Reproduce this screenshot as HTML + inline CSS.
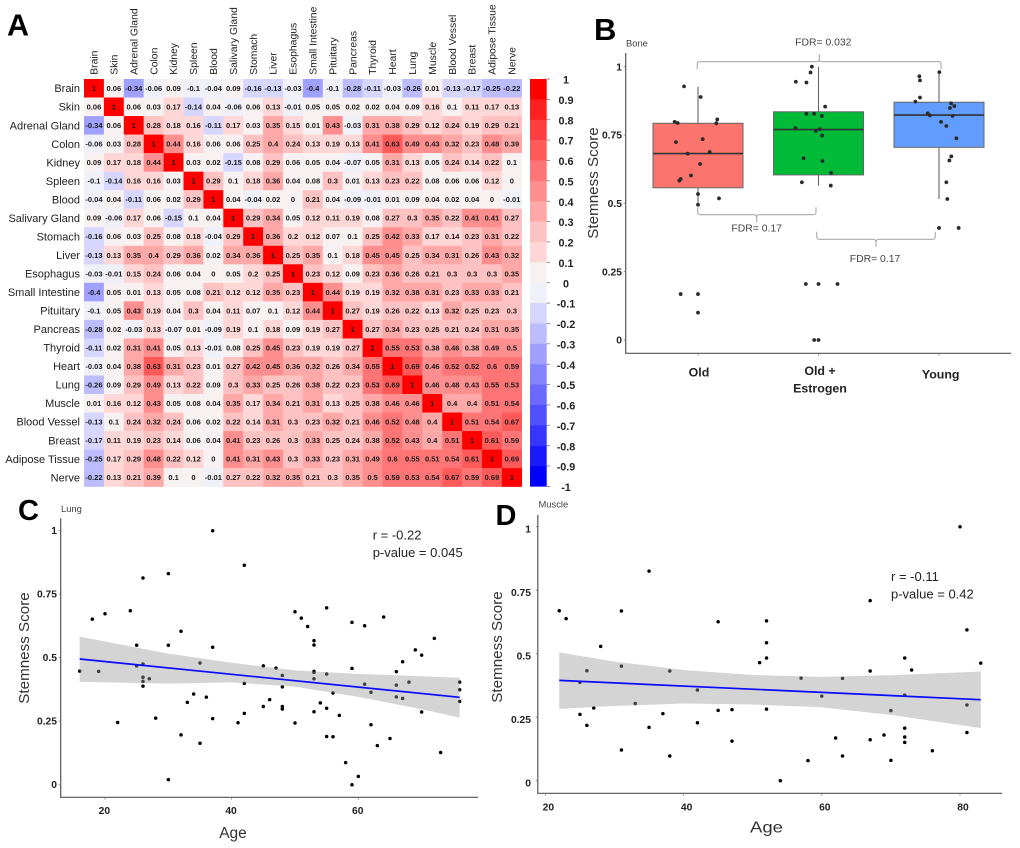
<!DOCTYPE html>
<html lang="en">
<head>
<meta charset="utf-8">
<title>Stemness score figure</title>
<style>
html,body{margin:0;padding:0;background:#fff;}
svg{display:block;font-family:"Liberation Sans",sans-serif;}
.letter{font-weight:bold;fill:#000;}
.tick{font-weight:bold;font-size:10.3px;fill:#222;}
.title{font-size:15.2px;fill:#333;}
.small{font-size:9.4px;fill:#444;}
.stat{font-size:13px;fill:#222;}
.fdr{font-size:10.4px;fill:#444;}
.cat{font-weight:bold;font-size:12.4px;fill:#222;}
.bracket{fill:none;stroke:#aaa;stroke-width:1.1;}
</style>
</head>
<body>
<svg id="fig" xmlns="http://www.w3.org/2000/svg" width="1020" height="848" viewBox="0 0 1020 848">
  <rect x="0" y="0" width="1020" height="848" fill="#fff"/>

  <g id="panelA">
    <text class="letter" x="7" y="35.5" font-size="30.5">A</text>
  </g>

  <g id="panelB">
    <text class="letter" x="594" y="40" font-size="31">B</text>
    <text class="small" x="626" y="46.5">Bone</text>
    <text class="title" transform="translate(598,183) rotate(-90)" text-anchor="middle">Stemness Score</text>
    <path class="bracket" d="M697.3 69.3V64Q697.3 61.7 700 61.7H816.8Q819.3 61.7 819.3 59V54.3M819.3 59Q819.3 61.7 822 61.7H938.5Q941 61.7 941 64V69.3"/>
    <path class="bracket" d="M697.7 207.3V212Q697.7 214.7 700.5 214.7H754Q756.7 214.7 756.7 217.5V222.3M756.7 217.5Q756.7 214.7 759.5 214.7H813Q816 214.7 816 212V207.3"/>
    <path class="bracket" d="M816.7 231.7V236.5Q816.7 239.3 819.5 239.3H873Q876 239.3 876 242V246.7M876 242Q876 239.3 879 239.3H932.5Q935.3 239.3 935.3 236.5V231.7"/>
    <text class="fdr" x="823.3" y="45.5" text-anchor="middle">FDR= 0.032</text>
    <text class="fdr" x="756.7" y="231.5" text-anchor="middle">FDR= 0.17</text>
    <text class="fdr" x="875" y="261.8" text-anchor="middle">FDR= 0.17</text>
    <text class="cat" x="699" y="376.5" text-anchor="middle">Old</text>
    <text class="cat" x="820" y="375" text-anchor="middle">Old +</text>
    <text class="cat" x="820" y="392.5" text-anchor="middle">Estrogen</text>
    <text class="cat" x="940.7" y="378.5" text-anchor="middle">Young</text>
  </g>

  <g id="panelC">
    <text class="letter" x="18" y="520" font-size="29">C</text>
    <text class="small" x="61" y="512">Lung</text>
    <text class="title" transform="translate(29,648) rotate(-90)" text-anchor="middle">Stemness Score</text>
    <text x="233" y="838" text-anchor="middle" font-size="15.5" fill="#333">Age</text>
    <text class="stat" x="372.7" y="539.5">r = -0.22</text>
    <text class="stat" x="372.7" y="557">p-value = 0.045</text>
  </g>

  <g id="panelD">
    <text class="letter" x="495.5" y="525" font-size="29">D</text>
    <text class="small" x="538.5" y="507.5">Muscle</text>
    <text class="title" transform="translate(502,647) rotate(-90)" text-anchor="middle">Stemness Score</text>
    <text x="766.5" y="832.7" text-anchor="middle" font-size="16" textLength="33" lengthAdjust="spacingAndGlyphs" fill="#333">Age</text>
    <text class="stat" x="891" y="581">r = -0.11</text>
    <text class="stat" x="891" y="598.5">p-value = 0.42</text>
  </g>
</svg>

<script>
// ---------- Panel A data ----------
var tissues = ["Brain","Skin","Adrenal Gland","Colon","Kidney","Spleen","Blood","Salivary Gland","Stomach","Liver","Esophagus","Small Intestine","Pituitary","Pancreas","Thyroid","Heart","Lung","Muscle","Blood Vessel","Breast","Adipose Tissue","Nerve"];
var heatValues = [
[1,.06,-.34,-.06,.09,-.1,-.04,.09,-.16,-.13,-.03,-.4,-.1,-.28,-.11,-.03,-.26,.01,-.13,-.17,-.25,-.22],
[.06,1,.06,.03,.17,-.14,.04,-.06,.06,.13,-.01,.05,.05,.02,.02,.04,.09,.16,.1,.11,.17,.13],
[-.34,.06,1,.28,.18,.16,-.11,.17,.03,.35,.15,.01,.43,-.03,.31,.38,.29,.12,.24,.19,.29,.21],
[-.06,.03,.28,1,.44,.16,.06,.06,.25,.4,.24,.13,.19,.13,.41,.63,.49,.43,.32,.23,.48,.39],
[.09,.17,.18,.44,1,.03,.02,-.15,.08,.29,.06,.05,.04,-.07,.05,.31,.13,.05,.24,.14,.22,.1],
[-.1,-.14,.16,.16,.03,1,.29,.1,.18,.36,.04,.08,.3,.01,.13,.23,.22,.08,.06,.06,.12,0],
[-.04,.04,-.11,.06,.02,.29,1,.04,-.04,.02,0,.21,.04,-.09,-.01,.01,.09,.04,.02,.04,0,-.01],
[.09,-.06,.17,.06,-.15,.1,.04,1,.29,.34,.05,.12,.11,.19,.08,.27,.3,.35,.22,.41,.41,.27],
[-.16,.06,.03,.25,.08,.18,-.04,.29,1,.36,.2,.12,.07,.1,.25,.42,.33,.17,.14,.23,.31,.22],
[-.13,.13,.35,.4,.29,.36,.02,.34,.36,1,.25,.35,.1,.18,.45,.45,.25,.34,.31,.26,.43,.32],
[-.03,-.01,.15,.24,.06,.04,0,.05,.2,.25,1,.23,.12,.09,.23,.36,.26,.21,.3,.3,.3,.35],
[-.4,.05,.01,.13,.05,.08,.21,.12,.12,.35,.23,1,.44,.19,.19,.32,.38,.31,.23,.33,.33,.21],
[-.1,.05,.43,.19,.04,.3,.04,.11,.07,.1,.12,.44,1,.27,.19,.26,.22,.13,.32,.25,.23,.3],
[-.28,.02,-.03,.13,-.07,.01,-.09,.19,.1,.18,.09,.19,.27,1,.27,.34,.23,.25,.21,.24,.31,.35],
[-.11,.02,.31,.41,.05,.13,-.01,.08,.25,.45,.23,.19,.19,.27,1,.55,.53,.38,.46,.38,.49,.5],
[-.03,.04,.38,.63,.31,.23,.01,.27,.42,.45,.36,.32,.26,.34,.55,1,.69,.46,.52,.52,.6,.59],
[-.26,.09,.29,.49,.13,.22,.09,.3,.33,.25,.26,.38,.22,.23,.53,.69,1,.46,.48,.43,.55,.53],
[.01,.16,.12,.43,.05,.08,.04,.35,.17,.34,.21,.31,.13,.25,.38,.46,.46,1,.4,.4,.51,.54],
[-.13,.1,.24,.32,.24,.06,.02,.22,.14,.31,.3,.23,.32,.21,.46,.52,.48,.4,1,.51,.54,.67],
[-.17,.11,.19,.23,.14,.06,.04,.41,.23,.26,.3,.33,.25,.24,.38,.52,.43,.4,.51,1,.61,.59],
[-.25,.17,.29,.48,.22,.12,0,.41,.31,.43,.3,.33,.23,.31,.49,.6,.55,.51,.54,.61,1,.69],
[-.22,.13,.21,.39,.1,0,-.01,.27,.22,.32,.35,.21,.3,.35,.5,.59,.53,.54,.67,.59,.69,1]
];
var colorbarTicks = ["1","0.9","0.8","0.7","0.6","0.5","0.4","0.3","0.2","0.1","0","-0.1","-0.2","-0.3","-0.4","-0.5","-0.6","-0.7","-0.8","-0.9","-1"];
var positiveBins = ["#f8f1f1","#ffd7d7","#ffc2c2","#ffa8a8","#ff8f8f","#ff7474","#ff5a5a","#ff3f3f","#ff2020","#ff0000"];
var negativeBins = ["#f0f0f8","#d6d6ff","#bcbcff","#a0a0ff","#8484ff","#6a6aff","#5050ff","#3636ff","#1a1aff","#0000ff"];

// ---------- Panel B data ----------
var boxGroups = ["old","old-estrogen","young"];
var boxFills = ["#fb756e","#00ba38","#619cff"];
var boxWhiskerLow = [.494,.565,.516];
var boxQ1 = [.557,.604,.705];
var boxMedian = [.682,.77,.823];
var boxQ3 = [.793,.835,.87];
var boxWhiskerHigh = [.927,1,.98];
var boneYTicks = ["0","0.25","0.5","0.75","1"];
var oldJitter = [-.116,.022,-.194,-.169,.16,.152,-.183,.039,-.086,.097,.017,-.058,-.144,-.155,0,.174,0,-.144,0,0];
var oldScores = [.928,.889,.798,.794,.807,.793,.724,.735,.682,.688,.644,.602,.589,.583,.534,.518,.495,.168,.168,.1];
var estrogenJitter = [-.055,-.066,-.188,-.1,.055,-.1,-.036,.028,-.191,.011,-.022,.03,-.124,.033,.105,-.138,.102,-.105,0,.158,-.036,0];
var estrogenScores = [1,.979,.945,.942,.854,.828,.828,.82,.775,.772,.765,.748,.665,.655,.611,.577,.565,.205,.205,.205,0,0];
var youngJitter = [-.163,-.158,.003,-.158,-.196,.1,.127,.091,-.094,-.075,.113,.017,.061,.144,.102,.086,.061,.069,0,.163];
var youngScores = [.965,.95,.98,.887,.872,.866,.856,.849,.829,.822,.82,.798,.783,.738,.672,.657,.577,.516,.41,.41];

// ---------- Panel C data ----------
var lungAges = [16,18,19,20,22,24,25,25,26,26,26,26,26,27,28,30,30,30,32,32,33,34,35,35,36,37,37,37,41,42,42,42,45,45,46,47,48,48,48,48,50,50,51,52,53,53,53,53,53,53,54,55,55,55,55,56,56,57,58,59,59,59,60,61,61,62,62,63,64,65,66,66,66,67,67,68,69,70,70,72,73,76,76,76];
var lungScores = [.447,.652,.446,.673,.245,.685,.549,.468,.814,.475,.423,.407,.388,.417,.262,.831,.549,.02,.604,.196,.324,.357,.479,.163,.345,1,.541,.26,.244,.864,.399,.281,.468,.308,.335,.459,.43,.385,.308,.298,.681,.243,.656,.623,.567,.55,.446,.442,.417,.287,.322,.696,.436,.301,.19,.361,.189,.273,.087,.639,.458,0,.033,.626,.396,.364,.236,.154,.66,.182,.445,.392,.346,.484,.34,.404,.531,.51,.286,.576,.127,.404,.374,.328];
var lungFitAges = [16,76];
var lungFitScores = [.495,.344];
var lungBandAges = [16,30,40,50,60,70,76];
var lungBandUpper = [.583,.516,.48,.45,.436,.427,.421];
var lungBandLower = [.405,.398,.403,.386,.346,.297,.264];
var lungXTicks = [20,40,60];
var lungYTicks = ["0","0.25","0.5","0.75","1"];

// ---------- Panel D data ----------
var muscleAges = [22,23,25,25,26,26,27,28,31,31,31,33,35,35,37,38,38,42,42,45,45,47,47,51,52,52,52,52,54,57,58,60,62,63,63,67,67,67,69,70,70,72,72,72,72,72,73,76,80,81,81,81,83];
var muscleScores = [.669,.638,.387,.261,.433,.218,.286,.529,.668,.451,.121,.304,.825,.21,.264,.432,.097,.357,.228,.626,.277,.28,.156,.465,.629,.543,.483,.282,0,.404,.079,.333,.168,.403,.097,.709,.432,.161,.18,.276,.08,.483,.337,.207,.172,.151,.436,.118,1,.594,.298,.19,.463];
var muscleFitAges = [22,83];
var muscleFitScores = [.395,.319];
var muscleBandAges = [22,30,40,50,60,70,83];
var muscleBandUpper = [.505,.469,.436,.416,.409,.415,.43];
var muscleBandLower = [.283,.294,.304,.3,.289,.259,.207];
var muscleXTicks = [20,40,60,80];
var muscleYTicks = ["0","0.25","0.5","0.75","1"];

var NS = "http://www.w3.org/2000/svg";
function mk(tag, attrs, parent, txt) {
  var e = document.createElementNS(NS, tag);
  for (var k in attrs) e.setAttribute(k, attrs[k]);
  if (txt !== undefined) e.textContent = txt;
  parent.appendChild(e);
  return e;
}

// ---------- Panel A ----------
var pa = document.getElementById("panelA");
var heatX = function (i) { return 84 + i * 19.9; };
var heatY = function (i) { return 79 + i * 18.53; };
var barY = function (i) { return 79 + i * 20.37; };
function heatColor(v) {
  if (v >= 0) return positiveBins[Math.min(9, Math.max(0, Math.ceil(v * 10 - 1e-9) - 1))];
  return negativeBins[Math.min(9, Math.max(0, Math.ceil(-v * 10 - 1e-9) - 1))];
}
tissues.forEach(function (name, r) {
  var rowLabel = mk("text", {x: 80, y: heatY(r) + 13.2, "text-anchor": "end", "font-size": 11, fill: "#222"}, pa, name);
  
  
  var colLabel = mk("text", {transform: "translate(" + (heatX(r) + 13.6) + ",74.8) rotate(-90)", "font-size": 10.4, fill: "#222"}, pa, name);
  
  
});
heatValues.forEach(function (row, r) {
  row.forEach(function (v, c) {
    var cell = mk("rect", {x: heatX(c), y: heatY(r), width: 20.1, height: 18.73, fill: heatColor(v)}, pa);
    
    
  });
});
heatValues.forEach(function (row, r) {
  row.forEach(function (v, c) {
    var t = mk("text", {x: heatX(c) + 9.95, y: heatY(r) + 12, "text-anchor": "middle", "font-size": 7.5, "font-weight": "bold", fill: "#1a1a1a"}, pa, String(v));
    
    
  });
});
colorbarTicks.forEach(function (label, i) {
  var v = parseFloat(label);
  if (i < colorbarTicks.length - 1) {
    var seg = mk("rect", {x: 530, y: barY(i), width: 16.7, height: 20.6, fill: heatColor(v - 0.05)}, pa);
    
    
  }
  var tk = mk("line", {x1: 546.7, x2: 550, y1: barY(i), y2: barY(i), stroke: "#777", "stroke-width": .8}, pa);
  
  
  var lb = mk("text", {x: 566, y: barY(i) + 4.6, "text-anchor": "middle", "font-size": 10.8, "font-weight": "bold", fill: "#222"}, pa, label);
  
  
});

// ---------- Shared axis drawing ----------
function drawAxes(parent, x0, yTop, yBottom, xRight, yFn, yTicks, labelRight, labelDy) {
  var yAxis = mk("line", {x1: x0, x2: x0, y1: yTop, y2: yBottom, stroke: "#555", "stroke-width": 1.2}, parent);
  
  
  var xAxis = mk("line", {x1: x0 - .6, x2: xRight, y1: yBottom, y2: yBottom, stroke: "#555", "stroke-width": 1.2}, parent);
  
  
  yTicks.forEach(function (label) {
    var y = yFn(parseFloat(label));
    var mark = mk("line", {x1: x0 - 2, x2: x0, y1: y, y2: y, stroke: "#777", "stroke-width": .8}, parent);
    
    
    var lb = mk("text", {"class": "tick", x: labelRight, y: y + labelDy, "text-anchor": "end"}, parent, label);
    
    
  });
}

// ---------- Panel B ----------
var pb = document.getElementById("panelB");
var boneY = function (v) { return 340 - 273.3 * v; };
var boneX = function (pos) { return 698 + 120.5 * pos; };
drawAxes(pb, 625.7, 53, 353.3, 1011, boneY, boneYTicks, 622, 3.6);
boxGroups.forEach(function (g, i) {
  var xc = boneX(i);
  var tick = mk("line", {x1: xc, x2: xc, y1: 353.3, y2: 355.5, stroke: "#777", "stroke-width": .8}, pb);
  
  
  var whisker = mk("line", {x1: xc, x2: xc, y1: boneY(boxWhiskerHigh[i]), y2: boneY(boxWhiskerLow[i]), stroke: "#666", "stroke-width": 1.1}, pb);
  
  
  var box = mk("rect", {x: xc - 45, y: boneY(boxQ3[i]), width: 90, height: boneY(boxQ1[i]) - boneY(boxQ3[i]), fill: boxFills[i], stroke: "#666", "stroke-width": 1}, pb);
  
  
  var med = mk("line", {x1: xc - 45, x2: xc + 45, y1: boneY(boxMedian[i]), y2: boneY(boxMedian[i]), stroke: "#333", "stroke-width": 1.6}, pb);
  
  
});
function bonePoints(pos, jitter, scores) {
  jitter.forEach(function (j, i) {
    var p = mk("circle", {cx: boneX(pos + j), cy: boneY(scores[i]), r: 1.9, fill: "#2a2a2a"}, pb);
    
    
  });
}
bonePoints(0, oldJitter, oldScores);
bonePoints(1, estrogenJitter, estrogenScores);
bonePoints(2, youngJitter, youngScores);

// ---------- Scatter panels ----------
function drawScatter(cfg) {
  var g = cfg.parent;
  drawAxes(g, cfg.x0, cfg.yTop, cfg.yBottom, cfg.xRight, cfg.yFn, cfg.yTicks, cfg.labelRight, cfg.labelDy);
  cfg.xTicks.forEach(function (a) {
    var t = mk("line", {x1: cfg.xFn(a), x2: cfg.xFn(a), y1: cfg.yBottom, y2: cfg.yBottom + 2.2, stroke: "#777", "stroke-width": .8}, g);
    
    
    var lb = mk("text", {"class": "tick", x: cfg.xFn(a) + cfg.tickDx, y: cfg.tickY, "text-anchor": "middle", "font-size": 10.5}, g, String(a));
    
    
  });
  cfg.ages.forEach(function (a, i) {
    var p = mk("circle", {cx: cfg.xFn(a), cy: cfg.yFn(cfg.scores[i]), r: 1.75, fill: "#000"}, g);
    
    
  });
  var d = "";
  cfg.bandAges.forEach(function (a, i) {
    d += (i ? "L" : "M") + cfg.xFn(a) + " " + cfg.yFn(cfg.bandUpper[i]);
  });
  for (var i = cfg.bandAges.length - 1; i >= 0; i--) {
    d += "L" + cfg.xFn(cfg.bandAges[i]) + " " + cfg.yFn(cfg.bandLower[i]);
  }
  var band = mk("path", {d: d + "Z", fill: "#999", "fill-opacity": .42}, g);
  
  
  var fit = mk("line", {x1: cfg.xFn(cfg.fitAges[0]), y1: cfg.yFn(cfg.fitScores[0]), x2: cfg.xFn(cfg.fitAges[1]), y2: cfg.yFn(cfg.fitScores[1]), stroke: "#0a0aff", "stroke-width": 1.7}, g);
  
  
}
drawScatter({
  parent: document.getElementById("panelC"), name: "lung",
  x0: 60.7, yTop: 518.3, yBottom: 797.3, xRight: 478, labelRight: 57, labelDy: 3.5, tickDx: -.6, tickY: 814,
  xFn: function (a) { return 105 + (a - 20) * 6.333; },
  yFn: function (v) { return 784.7 - 254 * v; },
  xTicks: lungXTicks, yTicks: lungYTicks, ages: lungAges, scores: lungScores,
  bandAges: lungBandAges, bandUpper: lungBandUpper, bandLower: lungBandLower,
  fitAges: lungFitAges, fitScores: lungFitScores
});
drawScatter({
  parent: document.getElementById("panelD"), name: "muscle",
  x0: 537.8, yTop: 515, yBottom: 793.3, xRight: 1002, labelRight: 531, labelDy: 5.8, tickDx: 3, tickY: 810.5,
  xFn: function (a) { return 545.4 + (a - 20) * 6.91; },
  yFn: function (v) { return 780.7 - 254 * v; },
  xTicks: muscleXTicks, yTicks: muscleYTicks, ages: muscleAges, scores: muscleScores,
  bandAges: muscleBandAges, bandUpper: muscleBandUpper, bandLower: muscleBandLower,
  fitAges: muscleFitAges, fitScores: muscleFitScores
});
</script>
</body>
</html>
